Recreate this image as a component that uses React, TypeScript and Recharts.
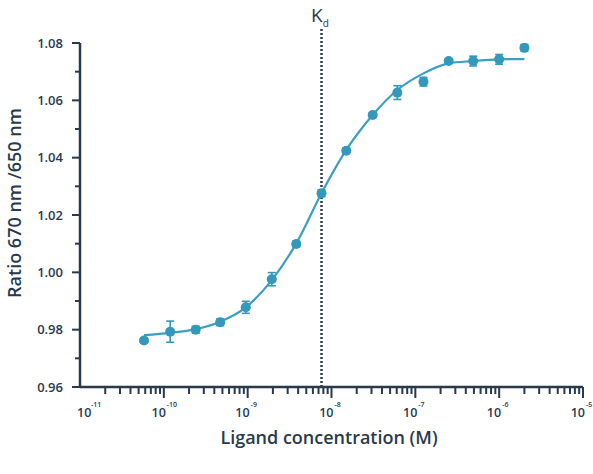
import React from "react";
import {
  ComposedChart,
  Line,
  Scatter,
  ErrorBar,
  XAxis,
  YAxis,
  ReferenceLine,
  Customized,
} from "recharts";

// measured points (ligand conc. in M, ratio, error)
const concentrations = [
  5.8e-11, 1.19e-10, 2.4e-10, 4.7e-10, 9.5e-10, 1.94e-9, 3.8e-9, 7.6e-9,
  1.5e-8, 3.1e-8, 6.1e-8, 1.25e-7, 2.5e-7, 4.9e-7, 1.0e-6, 2.0e-6,
];
const ratios = [
  0.9762, 0.9793, 0.98, 0.9826, 0.9878, 0.9976, 1.0099, 1.0276, 1.0424,
  1.0549, 1.0627, 1.0665, 1.0737, 1.0737, 1.0743, 1.0783,
];
const errors = [
  0.0008, 0.0037, 0.0012, 0.0012, 0.0021, 0.0023, 0.001, 0.0012, 0.001,
  0.0008, 0.0024, 0.0015, 0.0005, 0.0017, 0.0017, 0.0012,
];

// fitted curve
const fitConc = [
  5.8e-11, 1.19e-10, 2.4e-10, 4.7e-10, 9.5e-10, 1.94e-9, 3.8e-9, 7.6e-9,
  1.5e-8, 3.1e-8, 6.1e-8, 1.25e-7, 2.5e-7, 4.9e-7, 1.0e-6, 2.0e-6,
];
const fitRatio = [
  0.9781, 0.9789, 0.9802, 0.9828, 0.9878, 0.9973, 1.0101, 1.0276, 1.0427,
  1.0549, 1.0636, 1.0694, 1.0729, 1.0737, 1.0743, 1.0744,
];

const kd = 7.6e-9;

const decades = [1e-11, 1e-10, 1e-9, 1e-8, 1e-7, 1e-6, 1e-5];
const decadeLabels = ["-11", "-10", "-9", "-8", "-7", "-6", "-5"];
const minorSteps = [2, 3, 4, 5, 6, 7, 8, 9];
const yTicks = [
  0.96, 0.97, 0.98, 0.99, 1.0, 1.01, 1.02, 1.03, 1.04, 1.05, 1.06, 1.07, 1.08,
];
const yLabels = ["0.96", "0.98", "1.00", "1.02", "1.04", "1.06", "1.08"];

const points = concentrations.map((x, i) => ({ x, y: ratios[i], err: errors[i] }));
const fit = fitConc.map((x, i) => ({ x, y: fitRatio[i] }));

const xTicks: number[] = [];
decades.forEach((d, i) => {
  xTicks.push(d);
  if (i < decades.length - 1) minorSteps.forEach((m) => xTicks.push(d * m));
});

const NAVY = "#283a4d";
const BLUE = "#3a9fc2";
const DOT = "#3399bb";
const FONT = "'Open Sans', sans-serif";

const XTick = (props: any) => {
  const { x, y, payload } = props;
  const idx = decades.findIndex((d) => Math.abs(d - payload.value) / d < 1e-6);
  if (idx < 0) {
    return <line x1={x} x2={x} y1={y} y2={y + 7} stroke={NAVY} strokeWidth={2} />;
  }
  const first = idx === 0;
  return (
    <g>
      {!first && <line x1={x} x2={x} y1={y} y2={y + 11} stroke={NAVY} strokeWidth={2} />}
      <text
        x={first ? x - 3 : x + 2}
        y={y + 30}
        textAnchor={first ? "start" : "end"}
        fontSize={12.5}
        fontWeight={600}
        fill={NAVY}
        fontFamily={FONT}
      >
        10
      </text>
      <text
        x={first ? x + 11 : x + 3}
        y={y + 20}
        fontSize={7}
        fontWeight={600}
        fill={NAVY}
        fontFamily={FONT}
      >
        {decadeLabels[idx]}
      </text>
    </g>
  );
};

const YTick = (props: any) => {
  const { x, y, payload } = props;
  const lbl = Number(payload.value).toFixed(2);
  const major = yLabels.includes(lbl);
  return (
    <g>
      <line x1={x} x2={x - (major ? 8 : 5)} y1={y} y2={y} stroke={NAVY} strokeWidth={2} />
      {major && (
        <text
          x={x - 17}
          y={y + 4.5}
          textAnchor="end"
          fontSize={13}
          fontWeight={600}
          fill={NAVY}
          fontFamily={FONT}
        >
          {lbl}
        </text>
      )}
    </g>
  );
};

const Dot = (props: any) => <circle cx={props.cx} cy={props.cy} r={5} fill={DOT} />;

const Texts = () => (
  <g fontFamily={FONT} fill={NAVY}>
    <text
      x={14}
      y={203}
      transform="rotate(-90 14 203)"
      textAnchor="middle"
      dominantBaseline="central"
      fontSize={18}
      fontWeight={600}
    >
      Ratio 670 nm /650 nm
    </text>
    <text x={329} y={444} textAnchor="middle" fontSize={18} fontWeight={600}>
      Ligand concentration (M)
    </text>
    <text x={311} y={22} fontSize={19} fontWeight={500}>
      K
      <tspan fontSize={10} dy={5}>
        d
      </tspan>
    </text>
  </g>
);

export default function App() {
  return (
    <div style={{ position: "absolute", left: 0, top: 0 }}>
      <ComposedChart
        width={593}
        height={474}
        margin={{ top: 43, right: 10, bottom: 27, left: 30 }}
      >
        <XAxis
          type="number"
          dataKey="x"
          scale="log"
          domain={[1e-11, 1e-5]}
          ticks={xTicks}
          interval={0}
          allowDataOverflow
          height={60}
          tickSize={0}
          tickMargin={0}
          tickLine={false}
          axisLine={{ stroke: NAVY, strokeWidth: 2.5 }}
          tick={<XTick />}
        />
        <YAxis
          type="number"
          dataKey="y"
          domain={[0.96, 1.08]}
          ticks={yTicks}
          interval={0}
          allowDataOverflow
          width={50}
          tickSize={0}
          tickMargin={0}
          tickLine={false}
          axisLine={{ stroke: NAVY, strokeWidth: 2.5 }}
          tick={<YTick />}
        />
        <ReferenceLine
          segment={[
            { x: kd, y: 0.96 },
            { x: kd, y: 1.0856 },
          ]}
          ifOverflow="visible"
          stroke={NAVY}
          strokeWidth={2.5}
          strokeDasharray="2 2"
        />
        <Line
          data={fit}
          dataKey="y"
          type="monotone"
          stroke={BLUE}
          strokeWidth={2.2}
          dot={false}
          isAnimationActive={false}
        />
        <Scatter data={points} dataKey="y" shape={<Dot />} isAnimationActive={false}>
          <ErrorBar dataKey="err" direction="y" width={4} stroke={DOT} strokeWidth={1.6} />
        </Scatter>
        <Customized component={Texts} />
      </ComposedChart>
    </div>
  );
}
